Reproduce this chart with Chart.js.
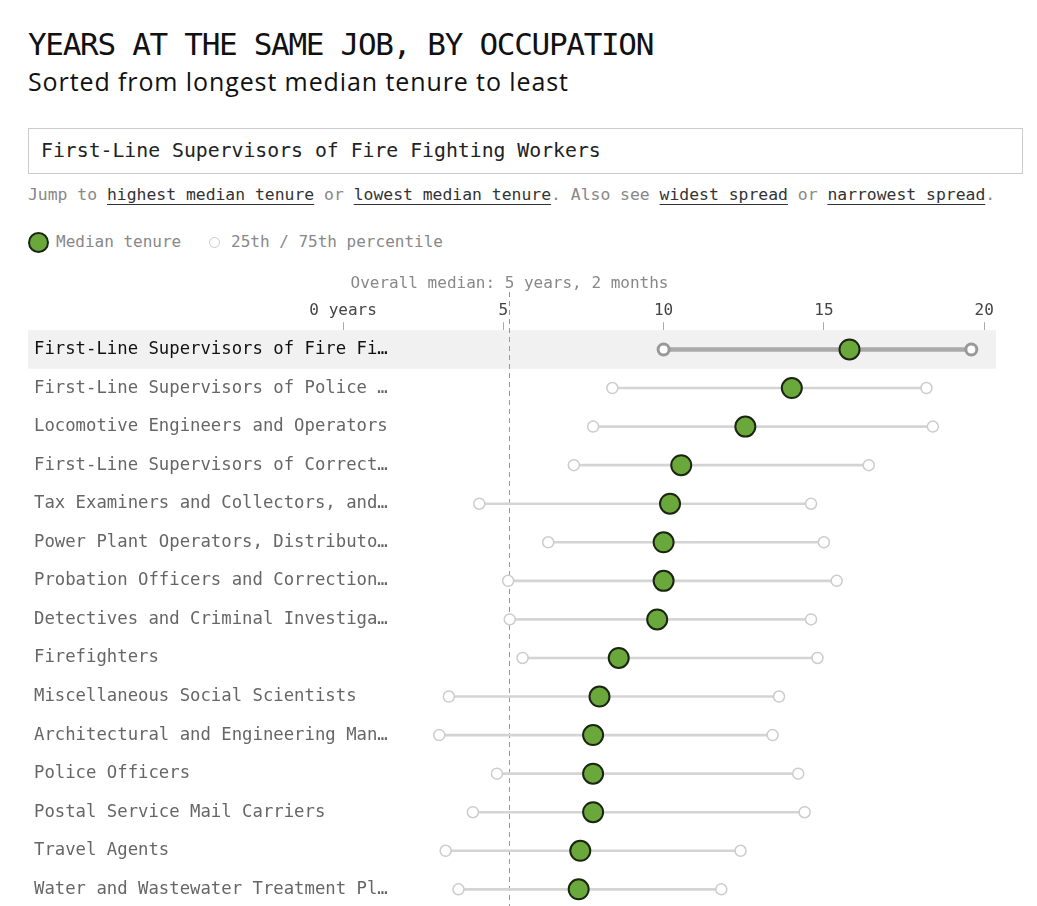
<!DOCTYPE html>
<html lang="en">
<head>
<meta charset="UTF-8">
<title>Years at the same job, by occupation</title>
<script src="https://cdn.jsdelivr.net/npm/chart.js@4.4.1/dist/chart.umd.min.js"></script>
<style>
    body { margin: 0; width: 1037px; height: 906px; overflow: hidden; background: #fff; font-family: 'DejaVu Sans Mono', monospace; }
    .title { position: absolute; left: 28px; top: 29px; font-size: 31px; line-height: 31px; letter-spacing: -1.3px; color: #111; white-space: nowrap; }
    .subtitle { position: absolute; left: 28px; top: 69px; font-family: 'Open Sans', sans-serif; font-size: 25px; line-height: 25px; letter-spacing: 0.9px; color: #111; white-space: nowrap; }
    .search { position: absolute; left: 28px; top: 128px; width: 981px; height: 44px; border: 1px solid #ccc; padding-left: 12px;
              font-size: 19.8px; line-height: 44px; color: #222; white-space: nowrap; }
    .jump { position: absolute; left: 28px; top: 187px; font-size: 16.4px; line-height: 16.4px; color: #888; white-space: nowrap; }
    .jump a { color: #333; text-decoration: underline; text-underline-offset: 4px; text-decoration-thickness: 1px; }
    .legend { position: absolute; left: 28px; top: 232px; height: 20px; font-size: 16px; line-height: 20px; color: #888; white-space: nowrap; }
    .dot { position: absolute; border-radius: 50%; box-sizing: border-box; }
    #wrap { position: absolute; left: 8px; top: 265px; width: 1000px; height: 660px; }
</style>
</head>
<body>
    <div class="title">YEARS AT THE SAME JOB, BY OCCUPATION</div>
    <div class="subtitle">Sorted from longest median tenure to least</div>
    <div class="search">First-Line Supervisors of Fire Fighting Workers</div>
    <div class="jump">Jump to <a>highest median tenure</a> or <a>lowest median tenure</a>. Also see <a>widest spread</a> or <a>narrowest spread</a>.</div>
    <div class="legend">
        <span class="dot" style="left:0px;top:0px;width:21px;height:21px;background:#6aa83c;border:2px solid #1b2612;"></span>
        <span style="position:absolute;left:28px;top:0;">Median tenure</span>
        <span class="dot" style="left:181px;top:5px;width:11px;height:11px;background:#fff;border:1.5px solid #ccc;"></span>
        <span style="position:absolute;left:203px;top:0;">25th / 75th percentile</span>
    </div>
    <div id="wrap"><canvas id="chart"></canvas></div>

<script>
    // occupations, sorted by median tenure (years)
    const occupations = [
        'First-Line Supervisors of Fire Fighting Workers',
        'First-Line Supervisors of Police and Detectives',
        'Locomotive Engineers and Operators',
        'First-Line Supervisors of Correctional Officers',
        'Tax Examiners and Collectors, and Revenue Agents',
        'Power Plant Operators, Distributors, and Dispatchers',
        'Probation Officers and Correctional Treatment Specialists',
        'Detectives and Criminal Investigators',
        'Firefighters',
        'Miscellaneous Social Scientists',
        'Architectural and Engineering Managers',
        'Police Officers',
        'Postal Service Mail Carriers',
        'Travel Agents',
        'Water and Wastewater Treatment Plant and System Operators'
    ];
    const p25 = [10.0, 8.4, 7.8, 7.2, 4.25, 6.4, 5.15, 5.2, 5.6, 3.3, 3.0, 4.8, 4.05, 3.2, 3.6];
    const medians = [15.8, 14.0, 12.55, 10.55, 10.2, 10.0, 10.0, 9.8, 8.6, 8.0, 7.8, 7.8, 7.8, 7.4, 7.35];
    const p75 = [19.6, 18.2, 18.4, 16.4, 14.6, 15.0, 15.4, 14.6, 14.8, 13.6, 13.4, 14.2, 14.4, 12.4, 11.8];
    const overallMedian = 5 + 2 / 12;
    const xTicks = [0, 5, 10, 15, 20];
    const selected = 0;

    const green = '#6aa83c';
    const ranges = p25.map((v, i) => [v, p75[i]]);

    function shorten(s) {
        return s.length > 34 ? s.slice(0, 33) + '…' : s;
    }

    // grey band behind the selected row, drawn before the axis labels
    const band = {
        id: 'band',
        beforeDraw(chart) {
            const { ctx, chartArea, scales: { y } } = chart;
            const h = y.getPixelForValue(1) - y.getPixelForValue(0);
            const yc = y.getPixelForValue(selected);
            ctx.save();
            ctx.fillStyle = '#f1f1f1';
            ctx.fillRect(chartArea.left, yc - h / 2, chartArea.right - chartArea.left, h);
            ctx.restore();
        }
    };

    // overall median line and its note
    const medianLine = {
        id: 'medianLine',
        beforeDatasetsDraw(chart) {
            const { ctx, scales: { x } } = chart;
            const mx = Math.round(x.getPixelForValue(overallMedian)) + 0.5;
            ctx.save();
            ctx.strokeStyle = '#999';
            ctx.lineWidth = 1;
            ctx.setLineDash([5, 4]);
            ctx.beginPath();
            ctx.moveTo(mx, 27);
            ctx.lineTo(mx, chart.height);
            ctx.stroke();
            ctx.setLineDash([]);

            ctx.fillStyle = '#888';
            ctx.font = "16px 'DejaVu Sans Mono', monospace";
            ctx.textAlign = 'center';
            ctx.textBaseline = 'middle';
            ctx.fillText('Overall median: 5 years, 2 months', mx, 19);
            ctx.restore();
        }
    };

    Chart.defaults.font.family = "'DejaVu Sans Mono', monospace";
    Chart.defaults.font.size = 16;

    const chart = new Chart(document.getElementById('chart'), {
        type: 'bar',
        data: {
            labels: occupations,
            datasets: [
                {
                    type: 'line',
                    data: medians,
                    showLine: false,
                    pointRadius: 10,
                    pointHoverRadius: 10,
                    pointBackgroundColor: green,
                    pointBorderColor: '#1b2612',
                    pointBorderWidth: 2,
                    order: 1
                },
                {
                    type: 'line',
                    data: p25,
                    showLine: false,
                    pointRadius: 5.5,
                    pointBackgroundColor: '#fff',
                    pointBorderColor: p25.map((v, i) => i === selected ? '#999' : '#ccc'),
                    pointBorderWidth: p25.map((v, i) => i === selected ? 3 : 1.5),
                    order: 2
                },
                {
                    type: 'line',
                    data: p75,
                    showLine: false,
                    pointRadius: 5.5,
                    pointBackgroundColor: '#fff',
                    pointBorderColor: p75.map((v, i) => i === selected ? '#999' : '#ccc'),
                    pointBorderWidth: p75.map((v, i) => i === selected ? 3 : 1.5),
                    order: 2
                },
                {
                    data: ranges.map((r, i) => i === selected ? null : r),
                    backgroundColor: '#d4d4d4',
                    barThickness: 2,
                    grouped: false,
                    order: 3
                },
                {
                    data: ranges.map((r, i) => i === selected ? r : null),
                    backgroundColor: '#aaa',
                    barThickness: 4,
                    grouped: false,
                    order: 3
                }
            ]
        },
        options: {
            indexAxis: 'y',
            responsive: true,
            maintainAspectRatio: false,
            animation: false,
            layout: { padding: { top: 34, left: 0, right: 0, bottom: 0 } },
            scales: {
                x: {
                    position: 'top',
                    min: -9.83,
                    max: 20.37,
                    afterBuildTicks(scale) {
                        scale.ticks = xTicks.map(v => ({ value: v }));
                    },
                    ticks: {
                        color: '#444',
                        padding: 2,
                        autoSkip: false,
                        maxRotation: 0,
                        callback: v => v === 0 ? '0 years' : String(v)
                    },
                    grid: { drawOnChartArea: false, tickLength: 8, color: '#aaa' },
                    border: { display: false }
                },
                y: {
                    grid: { display: false },
                    border: { display: false },
                    ticks: {
                        mirror: true,
                        padding: 6,
                        font: { size: 17.3 },
                        color: ctx => ctx.index === selected ? '#111' : '#666',
                        callback: function (v) { return shorten(this.getLabelForValue(v)); }
                    }
                }
            },
            plugins: {
                legend: { display: false },
                tooltip: { enabled: false }
            }
        },
        plugins: [band, medianLine]
    });
</script>
</body>
</html>
